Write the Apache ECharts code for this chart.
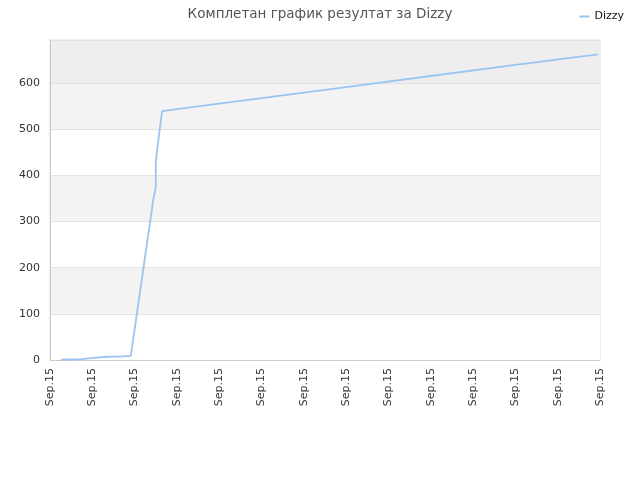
<!DOCTYPE html>
<html>
<head>
<meta charset="utf-8">
<script src="https://cdn.jsdelivr.net/npm/echarts@6/dist/echarts.min.js"></script>
<style>
html, body {margin: 0; padding: 0; background: #fff;}
#chart {width: 640px; height: 480px;}
</style>
</head>
<body>
<div id="chart"></div>
<script>
// positions along the x axis (label steps) and the scores
let xs = [0.26, 0.76, 0.97, 1.35, 1.72, 1.91, 2.44, 2.50, 2.50, 2.58, 2.65, 3.31, 5.0, 7.0, 9.0, 11.0, 12.95];
let ys = [0.5, 2, 4, 7, 8, 9, 346, 375, 429, 491, 539, 547, 567, 591, 615, 639, 662];
let xLabel = 'Sep.15';
let seriesName = 'Dizzy';
let titleText = 'Комплетан график резултат за Dizzy';

let data = [];
for (let i = 0; i < xs.length; i++) {
    data.push([xs[i], ys[i]]);
}

let chart = echarts.init(document.getElementById('chart'));
let option = {
    animation: false,
    title: {
        text: titleText,
        left: 'center',
        top: 2,
        textStyle: {
            fontFamily: 'DejaVu Sans',
            fontSize: 13.5,
            fontWeight: 'normal',
            color: '#555'
        }
    },
    legend: {
        right: 11,
        top: 6,
        icon: 'rect',
        itemWidth: 10,
        itemHeight: 2,
        itemGap: 6,
        textStyle: {fontFamily: 'DejaVu Sans', fontSize: 11, color: '#111'},
        data: [seriesName]
    },
    grid: {
        left: 50,
        right: 40,
        top: 40,
        bottom: 120,
        show: true,
        borderColor: '#ddd',
        borderWidth: 1
    },
    xAxis: {
        type: 'value',
        min: 0,
        max: 13,
        interval: 1,
        axisLine: {lineStyle: {color: '#ccc'}},
        axisTick: {show: false},
        splitLine: {show: false},
        axisLabel: {
            rotate: 90,
            margin: 8,
            fontFamily: 'DejaVu Sans',
            fontSize: 11,
            color: '#333',
            formatter: function () { return xLabel; }
        }
    },
    yAxis: {
        type: 'value',
        min: 0,
        max: 693,
        interval: 100,
        axisLine: {show: true, lineStyle: {color: '#ccc'}},
        axisTick: {show: false},
        axisLabel: {
            showMaxLabel: false,
            margin: 10,
            fontFamily: 'DejaVu Sans',
            fontSize: 11,
            color: '#333'
        },
        splitLine: {lineStyle: {color: '#e2e2e2'}},
        splitArea: {
            show: true,
            areaStyle: {color: ['#fff', '#f3f3f3', '#fff', '#f3f3f3', '#fff', '#f3f3f3', '#eee']}
        }
    },
    series: [{
        name: seriesName,
        type: 'line',
        data: data,
        showSymbol: false,
        lineStyle: {color: '#99c5f0', width: 1.8},
        itemStyle: {color: '#99c5f0'}
    }]
};
chart.setOption(option);
</script>
</body>
</html>
